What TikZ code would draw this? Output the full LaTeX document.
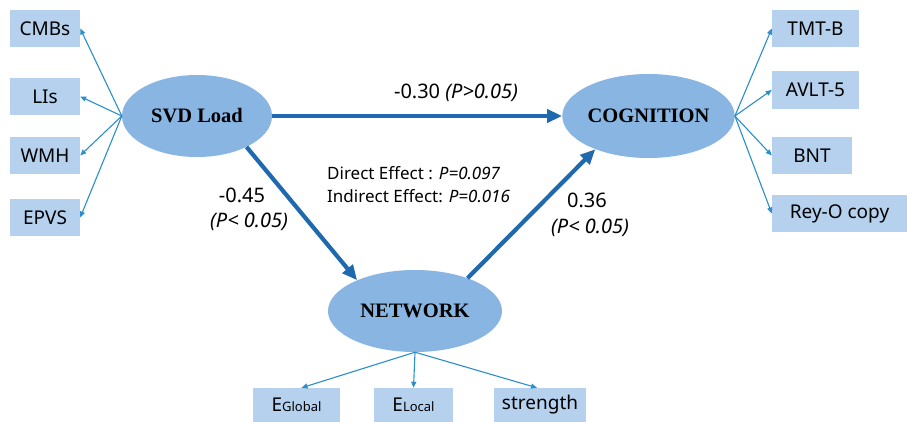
\documentclass[tikz,border=0pt]{standalone}
\usepackage{fontspec}
\setmainfont{Noto Sans}
\newfontfamily\serifb{Liberation Serif}
\usetikzlibrary{arrows.meta,shapes.geometric}
\definecolor{ellfill}{HTML}{88B5E2}
\definecolor{boxfill}{HTML}{B5D1EE}
\definecolor{thickc}{HTML}{1F69AE}
\definecolor{thinc}{HTML}{2A8FCB}
\tikzset{
  ind/.style={fill=boxfill, draw=none, minimum height=37pt, inner sep=0pt, font=\fontsize{19}{22}\selectfont},
  lat/.style={ellipse, fill=ellfill, draw=none, inner sep=0pt, font=\serifb\bfseries\fontsize{20.5}{24}\selectfont},
  thinarr/.style={draw=thinc, line width=1.1pt, -{Triangle[length=6pt,width=5pt]}},
  thickarr/.style={draw=thickc, line width=4.2pt, -{Triangle[length=15pt,width=13pt]}},
  lbl/.style={font=\fontsize{20}{23}\selectfont, inner sep=0pt},
}
\begin{document}
\begin{tikzpicture}[x=1pt,y=-1pt]
\useasboundingbox[fill=white] (0,0) rectangle (907,422);
% left boxes
\node[ind, minimum width=70pt] (cmb) at (45,28.5) {CMBs};
\node[ind, minimum width=70pt] (lis) at (45,96.5) {LIs};
\node[ind, minimum width=70pt] (wmh) at (45,155.5) {WMH};
\node[ind, minimum width=70pt] (epvs) at (45,217.5) {EPVS};
% right boxes
\node[ind, minimum width=87pt] (tmt) at (815.5,28.5) {TMT-B};
\node[ind, minimum width=87pt, minimum height=38pt] (avlt) at (815.5,90) {AVLT-5};
\node[ind, minimum width=80pt] (bnt) at (812,155.5) {BNT};
\node[ind, minimum width=135pt] (rey) at (839.5,213.5) {Rey-O copy};
% bottom boxes
\node[ind, minimum width=87pt, minimum height=34pt] (eg) at (296.5,405) {E{\fontsize{13}{15}\selectfont Global}};
\node[ind, minimum width=79pt, minimum height=34pt] (el) at (413.5,405) {E{\fontsize{13}{15}\selectfont Local}};
\node[ind, minimum width=92pt, minimum height=34pt] (st) at (540,405) {strength};
% latent ellipses
\node[lat, minimum width=150pt, minimum height=82pt] (svd) at (197,116) {SVD Load};
\node[lat, minimum width=148pt, minimum height=84pt] (cog) at (648.5,116) {COGNITION};
\node[lat, minimum width=174pt, minimum height=82pt] (net) at (415,311) {NETWORK};
% thin arrows
\foreach \b in {cmb,lis,wmh,epvs} \draw[thinarr] (svd.west) -- (\b.east);
\foreach \b in {tmt,avlt,bnt,rey} \draw[thinarr] (cog.east) -- (\b.west);
\draw[thinarr] (net.south) -- ([xshift=5pt]eg.north);
\draw[thinarr] (net.south) -- (el.north);
\draw[thinarr] (net.south) -- ([xshift=-3pt]st.north);
% thick arrows
\draw[thickarr] (svd.east) -- (cog.west);
\draw[thickarr] (svd.-32) -- (net.152);
\draw[thickarr] (net.32) -- (cog.212);
% labels
\node[lbl] (l1) at (456,93) {-0.30 \textit{(P>0.05)}};
\node[lbl] (l2) at (242,195) {-0.45};
\node[lbl] (l3) at (249,222) {\textit{(P< 0.05)}};
\node[lbl] (l4) at (587,200) {0.36};
\node[lbl] (l5) at (590,228) {\textit{(P< 0.05)}};
\node[inner sep=0pt, anchor=west, align=left, font=\fontsize{17}{23}\selectfont] (eff) at (327,185) {Direct Effect : \textit{P=0.097}\\Indirect Effect: \textit{P=0.016}};
\end{tikzpicture}
\end{document}
